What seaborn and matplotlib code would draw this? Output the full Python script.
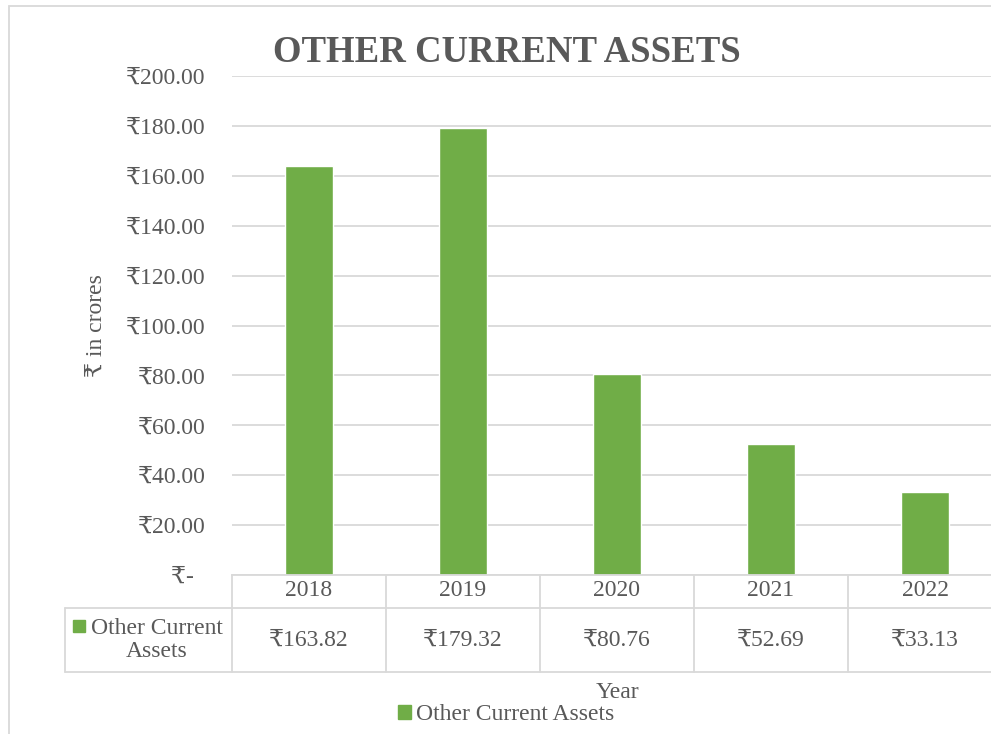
import numpy as np
import matplotlib
matplotlib.use("Agg")
import matplotlib.pyplot as plt
import seaborn as sns
from matplotlib.patches import Patch, Rectangle
from matplotlib.lines import Line2D
from matplotlib.ticker import FuncFormatter

# data
years = ["2018", "2019", "2020", "2021", "2022"]
values = [163.82, 179.32, 80.76, 52.69, 33.13]
series_name = "Other Current Assets"
y_ticks = [0, 20, 40, 60, 80, 100, 120, 140, 160, 180, 200]

# style
sns.set_theme(style="white")
plt.rcParams["font.family"] = ["Liberation Serif", "DejaVu Serif", "DejaVu Sans"]
text_col = "#595959"
grid_col = "#d9d9d9"
bar_col = "#70ad47"
W, H = 991, 734

fig = plt.figure(figsize=(W / 100, H / 100), dpi=100)

# outer chart border (top + left visible)
fig.add_artist(Rectangle((9 / W, -0.1), 1.2, (H - 6) / H + 0.1, transform=fig.transFigure,
                         fill=False, edgecolor=grid_col, lw=1.3))

ax = fig.add_axes([232 / W, 1 - 575 / H, 770 / W, 499 / H])
sns.barplot(x=years, y=values, color=bar_col, width=0.31, ax=ax, saturation=1)

ax.set_xlim(-0.5, len(years) - 0.5)
ax.set_ylim(0, 200)
ax.set_yticks(y_ticks)
ax.yaxis.set_major_formatter(FuncFormatter(lambda v, p: "₹-  " if v == 0 else f"₹{v:.2f}"))
ax.tick_params(axis="y", length=0, pad=19, labelsize=17, labelcolor=text_col)
ax.set_xticks([])
ax.set_xlabel("")
ax.set_ylabel("₹ in crores", fontsize=17, color=text_col)
ax.yaxis.set_label_coords(-0.163, 0.5)
ax.yaxis.grid(True, color=grid_col, lw=1.3)
ax.set_axisbelow(True)
for s in ["left", "right", "top"]:
    ax.spines[s].set_visible(False)
ax.spines["bottom"].set_color(grid_col)
ax.spines["bottom"].set_linewidth(1.3)

# data table below the plot
trans = ax.get_xaxis_transform()
def ya(py):
    return (575 - py) / 499

x_left = -0.5 + (65 - 232) / 154
n = len(years)
tbl = dict(color=grid_col, lw=1.3, transform=trans, clip_on=False)
ax.add_line(Line2D([x_left, n - 0.5], [ya(608)] * 2, **tbl))
ax.add_line(Line2D([x_left, n - 0.5], [ya(672)] * 2, **tbl))
ax.add_line(Line2D([x_left, x_left], [ya(608), ya(672)], **tbl))
for i in range(n):
    ax.add_line(Line2D([i - 0.5, i - 0.5], [0, ya(672)], **tbl))
    ax.text(i, ya(591), years[i], transform=trans, ha="center", va="center",
            fontsize=17, color=text_col)
    ax.text(i, ya(640), f"₹{values[i]:.2f}", transform=trans, ha="center", va="center",
            fontsize=17, color=text_col)

ax.text(-0.5 + (157 - 232) / 154, ya(640), "Other Current\nAssets", transform=trans,
        ha="center", va="center", fontsize=17, color=text_col, linespacing=1.15)
ax.add_patch(Rectangle((-0.5 + (73 - 232) / 154, ya(632)), 12 / 154, 12 / 499,
                       transform=trans, color=bar_col, clip_on=False))

# title, axis title, legend
fig.text(507 / W, 1 - 53 / H, "OTHER CURRENT ASSETS", ha="center", va="center",
         fontsize=26.5, fontweight="bold", color=text_col)
fig.text(617 / W, 1 - 692 / H, "Year", ha="center", va="center", fontsize=17, color=text_col)
fig.legend(handles=[Patch(color=bar_col)], labels=[series_name], loc="center",
           bbox_to_anchor=(506 / W, 1 - 715 / H), frameon=False, fontsize=17,
           handlelength=0.55, handleheight=0.55, handletextpad=0.2, labelcolor=text_col,
           borderpad=0)

fig.savefig("out.png", dpi=100)
